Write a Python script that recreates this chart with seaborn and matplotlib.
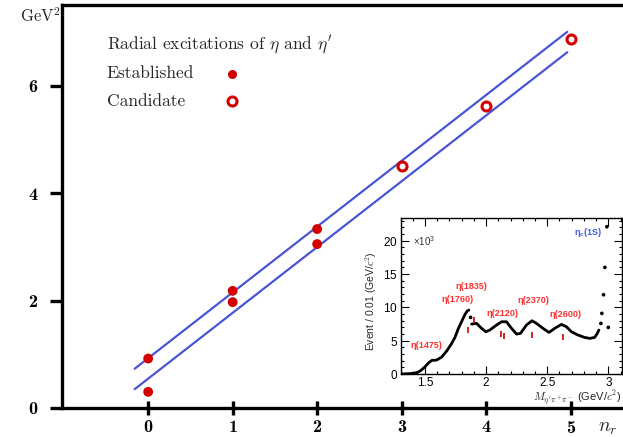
import matplotlib
matplotlib.use("Agg")
import matplotlib.pyplot as plt
import seaborn as sns
import pandas as pd

# Main plot: squared masses of eta radial excitations
n_established = [0, 0, 1, 1, 2, 2]
m2_established = [0.30, 0.92, 2.18, 1.97, 3.33, 3.05]
n_candidate = [3, 4, 5]
m2_candidate = [4.50, 5.62, 6.86]

# Two trajectory lines (endpoints)
line_n = [-0.16, 4.96]
upper_m2 = [0.73, 7.00]
lower_m2 = [0.35, 6.62]

x_ticks = [0, 1, 2, 3, 4, 5]
y_ticks = [0, 2, 4, 6]

# Inset: eta' pi+ pi- invariant mass spectrum (x 10^3 events)
seg1_mass = [1.30, 1.35, 1.40, 1.44, 1.47, 1.50, 1.53, 1.555, 1.595, 1.636, 1.677,
             1.718, 1.745, 1.772, 1.80, 1.827, 1.845, 1.859]
seg1_events = [0.0, 0.05, 0.1, 0.25, 0.6, 1.1, 1.7, 2.05, 2.1, 2.55, 3.45,
               4.6, 5.5, 6.8, 7.9, 8.95, 9.45, 9.6]
seg2_mass = [1.881, 1.922, 1.963, 1.998, 2.03, 2.085, 2.126, 2.167, 2.208, 2.249,
             2.281, 2.33, 2.376, 2.412, 2.466, 2.515, 2.561, 2.616, 2.657, 2.698,
             2.752, 2.806, 2.847, 2.888, 2.907, 2.923]
seg2_events = [7.5, 7.6, 6.85, 6.35, 6.6, 7.35, 7.85, 7.85, 6.85, 6.0,
               6.1, 7.35, 8.0, 7.6, 6.85, 6.25, 6.85, 7.45, 7.1, 6.35,
               5.85, 5.5, 5.35, 5.5, 6.0, 6.6]
dot_mass = [1.873, 2.939, 2.947, 2.961, 2.972, 2.988, 3.0]
dot_events = [8.5, 7.6, 9.1, 11.9, 16.0, 22.1, 7.0]

# resonance arrows and labels
arrow_mass = [1.854, 1.90, 2.118, 2.148, 2.376, 2.632]
arrow_events = [6.6, 8.1, 6.0, 5.7, 5.85, 5.5]
res_names = ["η(1475)", "η(1760)", "η(1835)", "η(2120)", "η(2370)", "η(2600)"]
res_x = [1.51, 1.77, 1.88, 2.135, 2.39, 2.65]
res_y = [4.35, 11.2, 13.2, 9.05, 11.05, 8.95]

sns.set_theme(style="ticks")
plt.rcParams['font.family'] = ['cmr10', 'DejaVu Serif']
plt.rcParams['mathtext.fontset'] = 'cm'
plt.rcParams['axes.formatter.use_mathtext'] = True

red = "#d40000"
blue = "#4a55d6"
sans = ["Liberation Sans", "DejaVu Sans"]

fig = plt.figure(figsize=(6.23, 4.37), dpi=100)
ax = fig.add_axes([0.0995, 0.0664, 0.9005, 0.9222])

est = pd.DataFrame({"n": n_established, "m2": m2_established})
cand = pd.DataFrame({"n": n_candidate, "m2": m2_candidate})
lines = pd.DataFrame({"n": line_n * 2, "m2": upper_m2 + lower_m2,
                      "which": ["upper"] * 2 + ["lower"] * 2})

sns.lineplot(data=lines, x="n", y="m2", units="which", estimator=None,
             color=blue, lw=1.6, ax=ax)
sns.scatterplot(data=est, x="n", y="m2", color=red, s=50, edgecolor="none",
                ax=ax, zorder=3)
sns.scatterplot(data=cand, x="n", y="m2", facecolor="white", edgecolor=red,
                linewidth=2.2, s=42, ax=ax, zorder=3)

ax.set_xlim(-1.02, 5.62)
ax.set_ylim(0, 7.5)
ax.set_xticks(x_ticks)
ax.set_yticks(y_ticks)
ax.set_xlabel("")
ax.set_ylabel("")
ax.spines["right"].set_visible(False)
for s in ["left", "bottom", "top"]:
    ax.spines[s].set_visible(True)
    ax.spines[s].set_linewidth(2.4)
    ax.spines[s].set_color("black")
ax.tick_params(axis="x", bottom=True, top=False, direction="inout", length=10,
               width=2.4, labelsize=13, pad=3, colors="black")
ax.tick_params(axis="y", left=True, right=False, direction="out", length=9,
               width=2.4, labelsize=13, pad=8, colors="black")
for lab in ax.get_xticklabels() + ax.get_yticklabels():
    lab.set_family(["cmb10", "DejaVu Serif"])

fig.text(20 / 623, 1 - 16 / 437, r"GeV$^2$", fontsize=12, ha="left", va="center")
fig.text(598 / 623, 1 - 428 / 437, r"$n_r$", fontsize=14, ha="left", va="center")

# legend drawn by hand so the texts stay left aligned
ax.text(0.080, 0.901, r"Radial excitations of $\eta$ and $\eta'$", transform=ax.transAxes,
        fontsize=12.5, va="center")
ax.text(0.080, 0.831, "Established", transform=ax.transAxes, fontsize=12.5, va="center")
ax.text(0.080, 0.762, "Candidate", transform=ax.transAxes, fontsize=12.5, va="center")
ax.plot([0.303], [0.829], "o", color=red, ms=6.5, mec="none", transform=ax.transAxes)
ax.plot([0.303], [0.762], "o", mfc="white", mec=red, mew=2.2, ms=6.5,
        transform=ax.transAxes)

# inset
ins = fig.add_axes([0.643, 0.144, 0.355, 0.357])
ins.set_facecolor("white")
sns.lineplot(x=seg1_mass, y=seg1_events, color="black", lw=2.0, ax=ins)
sns.lineplot(x=seg2_mass, y=seg2_events, color="black", lw=2.0, ax=ins)
sns.scatterplot(x=dot_mass, y=dot_events, color="black", s=7, edgecolor="none", ax=ins)
ins.plot(arrow_mass, arrow_events, "|", color=red, ms=5, mew=1.2)
for name, x, y in zip(res_names, res_x, res_y):
    ins.text(x, y, name, color="#ff3030", fontsize=6.5, fontweight="bold",
             ha="center", va="center", family=sans)
ins.text(2.84, 21.2, r"η$_\mathregular{c}$(1S)", color="#4060e0", fontsize=6.5,
         fontweight="bold", ha="center", va="center", family=sans)
ins.text(1.405, 19.9, r"×10$^\mathregular{3}$", fontsize=7, ha="left", va="center",
         color="#333333", family=sans)

ins.set_xlim(1.30, 3.11)
ins.set_ylim(0, 23.4)
ins.set_xticks([1.5, 2, 2.5, 3])
ins.set_xticklabels(["1.5", "2", "2.5", "3"])
ins.set_yticks([0, 5, 10, 15, 20])
ins.set_xticks([1.3 + 0.1 * i for i in range(19)], minor=True)
ins.set_yticks(list(range(0, 24)), minor=True)
for s in ins.spines.values():
    s.set_visible(True)
    s.set_linewidth(1.0)
    s.set_color("black")
ins.tick_params(which="both", direction="in", bottom=True, left=True, top=True,
                right=True, width=0.8, labelsize=8.5, pad=2, colors="black")
ins.tick_params(which="major", length=6)
ins.tick_params(which="minor", length=2.5)
for lab in ins.get_xticklabels() + ins.get_yticklabels():
    lab.set_family(sans)
ins.set_xlabel(r"$M_{\eta'\pi^+\pi^-}$ (GeV/$c^2$)", fontsize=8, labelpad=0,
               family=sans)
ins.xaxis.set_label_coords(1.0, -0.09)
ins.xaxis.label.set_ha("right")
ins.set_ylabel(r"Event / 0.01 (GeV/$c^2$)", fontsize=7.5, family=sans)
ins.yaxis.set_label_coords(-0.098, 0.47)

fig.savefig("out.png", dpi=100)
